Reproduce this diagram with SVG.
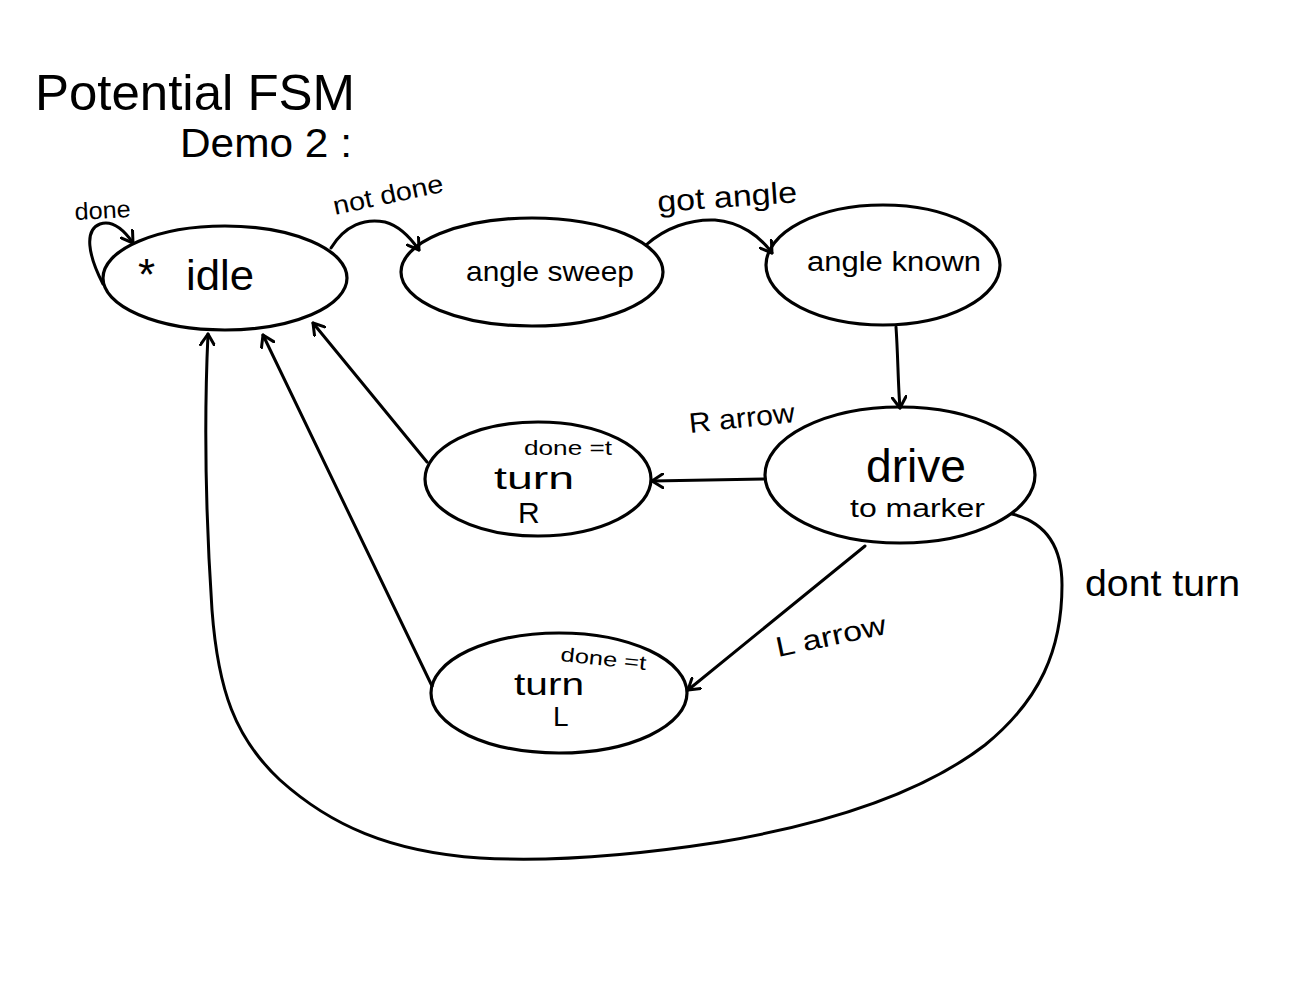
<svg xmlns="http://www.w3.org/2000/svg" width="1290" height="1000" viewBox="0 0 1290 1000">
<style>
.node{fill:none;stroke:#000;stroke-width:3.2}
.edge{fill:none;stroke:#000;stroke-width:3;stroke-linecap:round;stroke-linejoin:round}
text{font-family:"Liberation Sans","DejaVu Sans",sans-serif;fill:#000}
</style>
<defs>
<marker id="arr" viewBox="-12 -8 14 16" refX="0" refY="0" markerWidth="14" markerHeight="16" markerUnits="userSpaceOnUse" orient="auto">
<path d="M-11,-7 L0,0 L-11,7" fill="none" stroke="#000" stroke-width="3" stroke-linecap="round" stroke-linejoin="round"/>
</marker>
</defs>
<rect width="1290" height="1000" fill="#fff"/>
<g id="title">
<text x="35" y="110" font-size="50" textLength="320" lengthAdjust="spacingAndGlyphs">Potential  FSM</text>
<text x="180" y="157" font-size="40" textLength="172" lengthAdjust="spacingAndGlyphs">Demo 2 :</text>
</g>
<g id="edges">
<path class="edge" d="M103,284 C88,255 84,230 100,224 C112,220 124,230 133,243" marker-end="url(#arr)"/>
<path class="edge" d="M331,248 C345,225 365,218 385,222 C400,226 410,237 419,250" marker-end="url(#arr)"/>
<path class="edge" d="M646,245 C665,228 690,219 715,220 C740,222 760,236 772,253" marker-end="url(#arr)"/>
<path class="edge" d="M896,327 C898,355 898,385 900,408" marker-end="url(#arr)"/>
<path class="edge" d="M765,479 L652,481" marker-end="url(#arr)"/>
<path class="edge" d="M865,546 L688,690" marker-end="url(#arr)"/>
<path class="edge" d="M427,462 L313,323" marker-end="url(#arr)"/>
<path class="edge" d="M432,686 L263,335" marker-end="url(#arr)"/>
<path class="edge" d="M1012,514 C1045,522 1062,545 1062,585 C1062,650 1040,700 985,745 C920,795 820,825 720,842 C630,856 550,862 480,858 C390,852 330,825 280,780 C235,738 218,690 212,610 C206,520 204,420 208,334" marker-end="url(#arr)"/>
</g>
<g id="idle">
<ellipse class="node" cx="225" cy="278" rx="122" ry="52"/>
<text x="138" y="290" font-size="44">*</text>
<text x="186" y="290" font-size="42" textLength="68" lengthAdjust="spacingAndGlyphs">idle</text>
</g>
<g id="angle-sweep">
<ellipse class="node" cx="532" cy="272" rx="131" ry="54"/>
<text x="466" y="281" font-size="28" textLength="168" lengthAdjust="spacingAndGlyphs">angle sweep</text>
</g>
<g id="angle-known">
<ellipse class="node" cx="883" cy="265" rx="117" ry="60"/>
<text x="807" y="271" font-size="27" textLength="174" lengthAdjust="spacingAndGlyphs">angle  known</text>
</g>
<g id="drive-to-marker">
<ellipse class="node" cx="900" cy="475" rx="135" ry="68"/>
<text x="866" y="482" font-size="46" textLength="100" lengthAdjust="spacingAndGlyphs">drive</text>
<text x="850" y="517" font-size="26" textLength="135" lengthAdjust="spacingAndGlyphs">to marker</text>
</g>
<g id="turn-r">
<ellipse class="node" cx="538" cy="479" rx="113" ry="57"/>
<text x="524" y="455" font-size="20" textLength="88" lengthAdjust="spacingAndGlyphs">done =t</text>
<text x="494" y="489" font-size="32" textLength="80" lengthAdjust="spacingAndGlyphs">turn</text>
<text x="518" y="523" font-size="30">R</text>
</g>
<g id="turn-l">
<ellipse class="node" cx="559" cy="693" rx="128" ry="60"/>
<text x="560" y="661" font-size="20" transform="rotate(6 560 661)" textLength="86" lengthAdjust="spacingAndGlyphs">done =t</text>
<text x="514" y="695" font-size="32" textLength="70" lengthAdjust="spacingAndGlyphs">turn</text>
<text x="553" y="726" font-size="28">L</text>
</g>
<g id="labels">
<text x="75" y="220" font-size="24" transform="rotate(-3 75 220)" textLength="56" lengthAdjust="spacingAndGlyphs">done</text>
<text x="335" y="215" font-size="26" transform="rotate(-12 335 215)" textLength="112" lengthAdjust="spacingAndGlyphs">not done</text>
<text x="658" y="212" font-size="30" transform="rotate(-4 658 212)" textLength="140" lengthAdjust="spacingAndGlyphs">got angle</text>
<text x="690" y="433" font-size="28" transform="rotate(-6 690 433)" textLength="106" lengthAdjust="spacingAndGlyphs">R arrow</text>
<text x="778" y="657" font-size="28" transform="rotate(-12 778 657)" textLength="112" lengthAdjust="spacingAndGlyphs">L arrow</text>
<text x="1085" y="596" font-size="36" textLength="155" lengthAdjust="spacingAndGlyphs">dont turn</text>
</g>
</svg>
